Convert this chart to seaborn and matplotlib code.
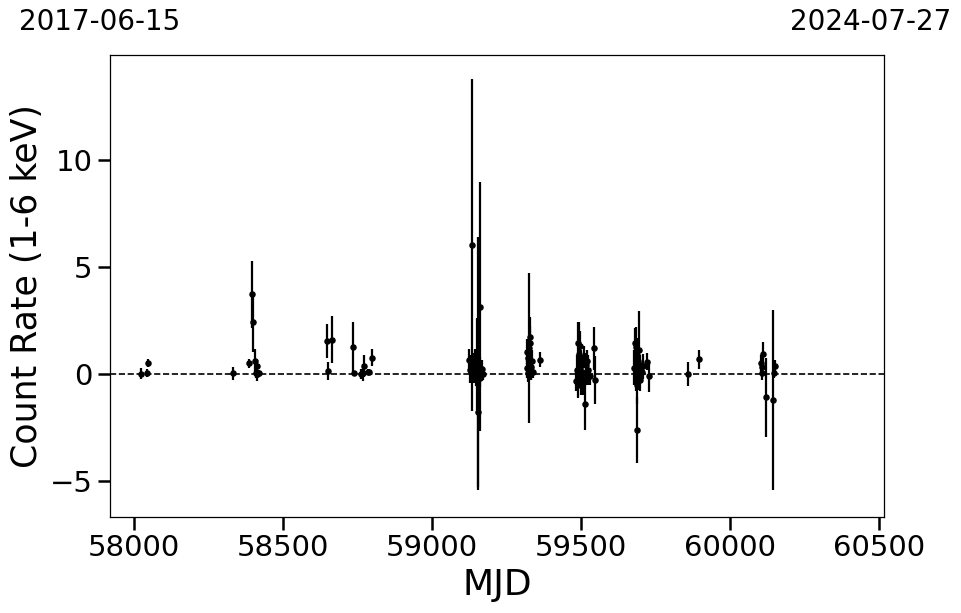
import numpy as np
import pandas as pd
import matplotlib
matplotlib.use("Agg")
import matplotlib.pyplot as plt
import seaborn as sns

# ---- data ----
mjd = [
    58023, 58044, 58046,
    58333, 58387, 58397, 58398, 58407, 58409, 58411, 58412, 58414, 58418,
    58649, 58652, 58665, 58736, 58737, 58762, 58768, 58772, 58784, 58790, 58800,
    59125, 59128, 59132, 59136, 59140, 59142, 59145, 59148, 59150, 59152, 59154,
    59156, 59158, 59160, 59162, 59163, 59168, 59171,
    59318, 59320, 59322, 59324, 59326, 59328, 59330, 59332, 59334, 59336, 59338, 59364,
    59485, 59488, 59490, 59492, 59494, 59496, 59498, 59500, 59502, 59505, 59508,
    59510, 59513, 59516, 59519, 59522, 59525, 59530, 59545, 59546,
    59680, 59683, 59685, 59686, 59687, 59689, 59690, 59692, 59694, 59696, 59698,
    59700, 59705, 59710, 59722, 59730,
    59860, 59898,
    60105, 60107, 60110, 60113, 60122, 60145, 60150, 60151,
]
rate = [
    0.02, 0.05, 0.52,
    0.03, 0.50, 3.72, 2.43, 0.62, 0.05, 0.37, 0.00, 0.02, 0.05,
    1.54, 0.14, 1.59, 1.26, 0.03, 0.00, 0.06, 0.37, 0.10, 0.10, 0.75,
    0.65, 0.20, 0.40, 6.03, 0.30, 0.10, 0.55, -0.15, 0.20, 0.45, -1.76,
    0.50, 0.05, 0.30, -0.20, 3.15, 0.25, 0.00,
    0.30, 1.04, 0.73, 0.03, 1.20, 1.43, 1.74, 0.34, 0.03, 0.60, 0.10, 0.66,
    -0.31, 0.20, -0.50, 1.43, 0.94, 1.33, 0.30, -0.20, 0.60, 0.10, -0.40,
    0.80, -1.38, 0.40, 0.00, 0.62, 0.20, -0.10, 1.20, -0.28,
    0.30, 1.43, 1.28, 0.22, -2.62, 0.90, -0.50, 0.60, 1.10, 0.00, -0.30,
    0.40, 0.10, 0.35, 0.57, -0.09,
    0.00, 0.68,
    0.50, 0.03, 0.34, 0.92, -1.09, -1.21, 0.03, 0.37,
]
rate_err = [
    0.25, 0.20, 0.20,
    0.30, 0.22, 1.56, 1.40, 0.54, 0.25, 0.30, 0.20, 0.35, 0.15,
    0.80, 0.40, 1.10, 1.18, 0.10, 0.25, 0.40, 0.50, 0.12, 0.12, 0.40,
    0.50, 0.60, 0.50, 7.75, 0.70, 0.50, 0.60, 0.40, 0.80, 2.15, 3.50,
    5.90, 0.60, 0.50, 0.40, 5.80, 0.40, 0.30,
    0.50, 0.60, 0.70, 0.40, 3.50, 0.80, 0.90, 0.60, 0.30, 0.50, 0.30, 0.35,
    0.50, 0.70, 0.60, 1.00, 1.50, 0.70, 0.90, 0.80, 0.50, 0.70, 0.60,
    0.50, 1.25, 0.60, 0.50, 0.50, 0.70, 0.40, 1.00, 1.10,
    0.80, 0.70, 0.90, 1.00, 1.55, 0.80, 0.90, 0.70, 1.85, 0.60, 0.50,
    0.50, 0.40, 0.60, 0.40, 0.75,
    0.55, 0.45,
    0.40, 0.30, 0.50, 0.56, 1.85, 4.20, 0.20, 0.30,
]
x_ticks = [58000, 58500, 59000, 59500, 60000, 60500]
y_ticks = [-5, 0, 5, 10]
date_start = "2017-06-15"
date_end = "2024-07-27"
mjd_start, mjd_end = 57919, 60518

df = pd.DataFrame({"MJD": mjd, "rate": rate, "err": rate_err})

sns.set_theme(style="ticks")
plt.rcParams["font.family"] = ["DejaVu Sans"]
plt.rcParams["text.color"] = "black"
plt.rcParams["axes.labelcolor"] = "black"
plt.rcParams["xtick.color"] = "black"
plt.rcParams["ytick.color"] = "black"

fig = plt.figure(figsize=(9.62, 6.13), dpi=100)
ax = fig.add_axes([110 / 962, 1 - 517 / 613, (884 - 110) / 962, (517 - 55) / 613])

ax.errorbar(df["MJD"], df["rate"], yerr=df["err"], fmt="none",
            ecolor="black", elinewidth=1.6, capsize=0, zorder=2)
sns.scatterplot(data=df, x="MJD", y="rate", ax=ax, color="black",
                s=22, edgecolor="black", linewidth=0, zorder=3)
ax.axhline(0, color="black", linestyle="--", linewidth=1.2, zorder=1)

ax.set_xlim(mjd_start, mjd_end)
ax.set_ylim(-6.68, 14.9)
ax.set_xticks(x_ticks)
ax.set_yticks(y_ticks)
ax.set_xlabel("MJD", fontsize=26, color="black")
ax.set_ylabel("Count Rate (1-6 keV)", fontsize=25, color="black")
ax.tick_params(axis="both", labelsize=21, length=9, width=1.8,
               color="black", labelcolor="black")
for sp in ax.spines.values():
    sp.set_linewidth(0.9)
    sp.set_color("black")

fig.text(100 / 962, 1 - 22 / 613, date_start, fontsize=20, ha="center",
         va="center", color="black")
fig.text(871 / 962, 1 - 22 / 613, date_end, fontsize=20, ha="center",
         va="center", color="black")

fig.savefig("out.png", dpi=100)
